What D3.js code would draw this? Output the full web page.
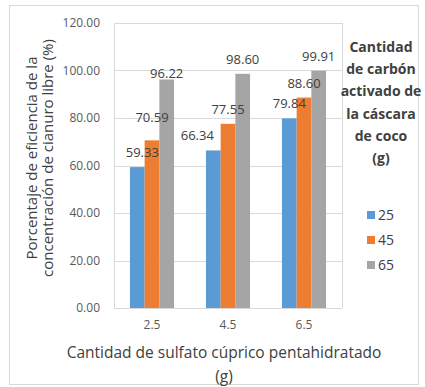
<!DOCTYPE html>
<html><head><meta charset="utf-8">
<script src="https://cdn.jsdelivr.net/npm/d3@7"></script>
<style>body{margin:0;background:#fff}svg{display:block}text{font-family:"Open Sans","Noto Sans",sans-serif}</style>
</head><body><svg id="c" width="425" height="387"></svg>
<script>
const categories = ["2.5", "4.5", "6.5"];
const seriesNames = ["25", "45", "65"];
const values25 = [59.33, 66.34, 79.84];
const values45 = [70.59, 77.55, 88.60];
const values65 = [96.22, 98.60, 99.91];
const yTicks = [0, 20, 40, 60, 80, 100, 120];
const colors = ["#5b9bd5", "#ed7d31", "#a5a5a5"];
// label nudges [dx, dy] per series/category
const labelNudge = [[[5,0],[-16,0],[0,0]],[[0,-8],[0,0],[0,0]],[[0,9],[0,0],[0,0]]];

const series = [values25, values45, values65];
const svg = d3.select("#c");
const m = {l:114, r:342, t:23, b:308};

svg.append("rect").attr("x",9.5).attr("y",5.5).attr("width",409).attr("height",379)
  .attr("fill","none").attr("stroke","#d9d9d9");

const x = d3.scaleBand().domain(categories).range([m.l, m.r]).paddingInner(0.42).paddingOuter(0.21);
const xs = d3.scaleBand().domain(seriesNames).range([0, x.bandwidth()]);
const y = d3.scaleLinear().domain([0,120]).range([m.b, m.t]);

// gridlines
svg.append("g").selectAll("line").data(yTicks).join("line")
  .attr("x1", m.l).attr("x2", m.r).attr("y1", d=>Math.round(y(d))+0.5).attr("y2", d=>Math.round(y(d))+0.5)
  .attr("stroke", "#d9d9d9").attr("stroke-width",1);
svg.append("line").attr("x1",m.l+0.5).attr("x2",m.l+0.5).attr("y1",m.t).attr("y2",m.b).attr("stroke","#d9d9d9");
svg.append("line").attr("x1",m.r+0.5).attr("x2",m.r+0.5).attr("y1",m.t).attr("y2",m.b).attr("stroke","#d9d9d9");

// y axis labels
const yAxis = d3.axisLeft(y).tickValues(yTicks).tickFormat(d3.format(".2f")).tickSize(0).tickPadding(14);
const ga = svg.append("g").attr("transform",`translate(${m.l},0)`).call(yAxis);
ga.select(".domain").remove();
ga.selectAll("text").attr("fill","#595959").attr("font-size",12);

// x axis labels
const xAxis = d3.axisBottom(x).tickSize(0).tickPadding(12);
const gx = svg.append("g").attr("transform",`translate(0,${m.b})`).call(xAxis);
gx.select(".domain").remove();
gx.selectAll("text").attr("fill","#595959").attr("font-size",12);

// bars
const barLayer = svg.append("g");
const labelLayer = svg.append("g");
series.forEach((vals, si) => {
  barLayer.append("g").selectAll("rect").data(vals).join("rect")
    .attr("x", (d,i)=>x(categories[i]) + xs(seriesNames[si]))
    .attr("width", xs.bandwidth())
    .attr("y", d=>y(d)).attr("height", d=>y(0)-y(d))
    .attr("fill", colors[si]);
  labelLayer.append("g").selectAll("text").data(vals).join("text")
    .attr("x", (d,i)=>x(categories[i]) + xs(seriesNames[si]) + xs.bandwidth()/2 + labelNudge[si][i][0])
    .attr("y", (d,i)=>y(d) - 10 + labelNudge[si][i][1])
    .attr("text-anchor","middle").attr("font-size",13).attr("fill","#404040")
    .text(d=>d3.format(".2f")(d));
});

// y title
const yt = svg.append("text").attr("transform","translate(37,158) rotate(-90)")
  .attr("text-anchor","middle").attr("font-size",15).attr("fill","#404040");
yt.append("tspan").attr("x",0).attr("dy",0).text("Porcentaje de eficiencia de la");
yt.append("tspan").attr("x",0).attr("dy",16).text("concentración de cianuro libre (%)");

// x title
const xt = svg.append("text").attr("text-anchor","middle").attr("font-size",15.5).attr("fill","#404040");
xt.append("tspan").attr("x",224).attr("y",358).text("Cantidad de sulfato cúprico pentahidratado");
xt.append("tspan").attr("x",224).attr("y",382).text("(g)");

// legend title
const lt = ["Cantidad","de carbón","activado de","la cáscara","de coco","(g)"];
svg.append("g").selectAll("text").data(lt).join("text")
  .attr("x",381).attr("y",(d,i)=>52+i*22.2).attr("text-anchor","middle")
  .attr("font-size",14).attr("font-weight","bold").attr("fill","#404040").text(d=>d);

// legend items
const lg = svg.append("g").selectAll("g").data(seriesNames).join("g")
  .attr("transform",(d,i)=>`translate(367,${215+i*25})`);
lg.append("rect").attr("x",0).attr("y",-4).attr("width",8).attr("height",8).attr("fill",(d,i)=>colors[i]);
lg.append("text").attr("x",11).attr("y",5).attr("font-size",14).attr("fill","#404040").text(d=>d);
</script></body></html>
